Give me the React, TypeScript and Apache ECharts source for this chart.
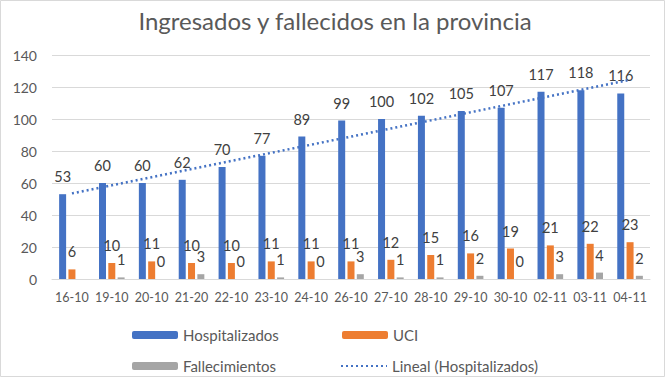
import React, { useEffect, useRef } from "react";
import * as echarts from "echarts";

const categories = ["16-10", "19-10", "20-10", "21-20", "22-10", "23-10", "24-10", "26-10", "27-10", "28-10", "29-10", "30-10", "02-11", "03-11", "04-11"];
const hospitalizados = [53, 60, 60, 62, 70, 77, 89, 99, 100, 102, 105, 107, 117, 118, 116];
const uci = [6, 10, 11, 10, 10, 11, 11, 11, 12, 15, 16, 19, 21, 22, 23];
const fallecimientos: (number | null)[] = [null, 1, 0, 3, 0, 1, 0, 3, 1, 1, 2, 0, 3, 4, 2];
const yTicks = { min: 0, max: 140, interval: 20 };

// Linear trendline (least squares) of Hospitalizados, as Excel's "Lineal"
function linearTrend(values: number[]): number[] {
  const n = values.length;
  const mx = (n - 1) / 2;
  const my = values.reduce((a, b) => a + b, 0) / n;
  let sxy = 0, sxx = 0;
  values.forEach((v, i) => { sxy += (i - mx) * (v - my); sxx += (i - mx) * (i - mx); });
  const slope = sxy / sxx;
  return values.map((_, i) => +(my + slope * (i - mx)).toFixed(2));
}

const FONT = "Lato, 'Noto Sans', sans-serif";
const TXT = "#595959";
const LBL = "#404040";

export default function App() {
  const ref = useRef<HTMLDivElement>(null);
  useEffect(() => {
    if (!ref.current) return;
    const chart = echarts.init(ref.current, undefined, { renderer: "svg" });
    const label = {
      show: true,
      position: "top" as const,
      distance: 10,
      color: LBL,
      fontSize: 14.5,
      fontFamily: FONT,
    };
    const legendBase = {
      orient: "horizontal" as const,
      itemWidth: 46,
      itemHeight: 8,
      itemGap: 8,
      padding: 0,
      textStyle: { color: TXT, fontSize: 15, fontFamily: FONT, lineHeight: 16 },
      selectedMode: false,
    };
    chart.setOption({
      animation: false,
      backgroundColor: "#ffffff",
      title: {
        text: "Ingresados y fallecidos en la provincia",
        left: "center",
        top: 3,
        textStyle: { color: TXT, fontSize: 24, fontWeight: "normal", fontFamily: FONT },
      },
      graphic: [
        {
          type: "rect",
          shape: { x: 0.5, y: 0.5, width: 664, height: 376 },
          style: { fill: "none", stroke: "#d9d9d9", lineWidth: 1 },
          silent: true,
        },
      ],
      legend: [
        { ...legendBase, data: ["Hospitalizados"], left: 132, top: 327 },
        { ...legendBase, data: ["UCI"], left: 342, top: 327 },
        { ...legendBase, data: ["Fallecimientos"], left: 132, top: 358 },
        {
          ...legendBase,
          data: [{ name: "Lineal (Hospitalizados)", itemStyle: { opacity: 0 } }],
          left: 340,
          top: 358,
        },
      ],
      grid: { left: 52, right: 20, top: 55, bottom: 98, containLabel: false },
      xAxis: {
        type: "category",
        data: categories,
        axisLine: { lineStyle: { color: "#d9d9d9" } },
        axisTick: { show: false },
        axisLabel: { color: TXT, fontSize: 12.5, fontFamily: FONT, margin: 12, interval: 0 },
      },
      yAxis: {
        type: "value",
        min: yTicks.min,
        max: yTicks.max,
        interval: yTicks.interval,
        axisLine: { show: false },
        axisTick: { show: false },
        axisLabel: { color: TXT, fontSize: 14, fontFamily: FONT, margin: 15 },
        splitLine: { lineStyle: { color: "#d9d9d9" } },
      },
      series: [
        {
          name: "Hospitalizados",
          type: "bar",
          data: hospitalizados,
          barWidth: 7,
          barGap: "33%",
          itemStyle: { color: "#4472C4" },
          label,
        },
        {
          name: "UCI",
          type: "bar",
          data: uci,
          barWidth: 7,
          barGap: "33%",
          itemStyle: { color: "#ED7D31" },
          label,
        },
        {
          name: "Fallecimientos",
          type: "bar",
          data: fallecimientos,
          barWidth: 7,
          barGap: "33%",
          itemStyle: { color: "#A5A5A5" },
          label,
        },
        {
          name: "Lineal (Hospitalizados)",
          type: "line",
          data: linearTrend(hospitalizados),
          symbol: "none",
          itemStyle: { color: "#4472C4" },
          lineStyle: { color: "#4472C4", width: 2.5, type: [2, 3] },
          z: 5,
        },
      ],
    });
    return () => chart.dispose();
  }, []);
  return (
    <div
      ref={ref}
      style={{ position: "fixed", left: 0, top: 0, width: 670, height: 377 }}
    />
  );
}
